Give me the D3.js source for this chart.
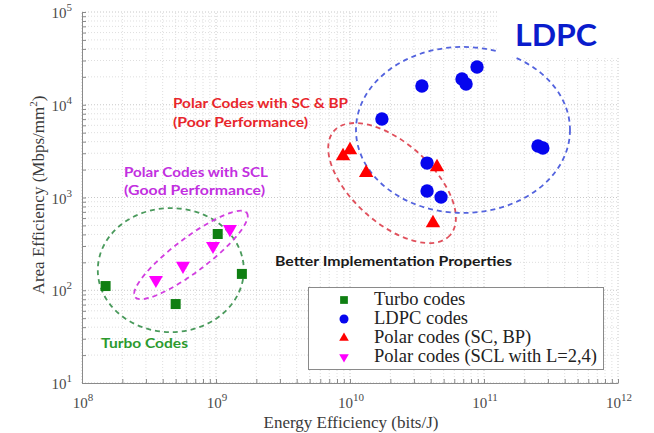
<!DOCTYPE html>
<html>
<head>
<meta charset="utf-8">
<script src="https://cdn.jsdelivr.net/npm/d3@7"></script>
<style>
  body { margin: 0; background: #fff; }
  svg { display: block; }
</style>
</head>
<body>
<div id="chart"></div>
<script>
// energy efficiency (bits/J) vs area efficiency (Mbps/mm^2)
var turboX = [1.5e8, 5.0e8, 1.03e9, 1.56e9];
var turboY = [111, 71, 404, 150];

var ldpcX = [8.87e10, 6.85e10, 7.35e10, 3.44e10, 1.73e10, 2.53e11, 2.75e11, 3.76e10, 3.76e10, 4.78e10];
var ldpcY = [25500, 18970, 16750, 15920, 7020, 3590, 3420, 2350, 1175, 1010];

var polarScX = [8.87e9, 1.0e10, 1.32e10, 4.46e10, 4.16e10];
var polarScY = [2800, 3250, 1840, 2130, 531];

var polarSclX = [3.56e8, 5.67e8, 9.5e8, 1.27e9];
var polarSclY = [129, 183, 300, 457];

var legendLabels = ["Turbo codes", "LDPC codes", "Polar codes (SC, BP)", "Polar codes (SCL with L=2,4)"];
var xTickExp = [8, 9, 10, 11, 12];
var yTickExp = [1, 2, 3, 4, 5];

var width = 654, height = 433;
var margin = {top: 12, right: 36, bottom: 50, left: 82};

var svg = d3.select("#chart").append("svg")
    .attr("width", width)
    .attr("height", height);

var x = d3.scaleLog()
    .domain([1e8, 1e12])
    .range([margin.left, width - margin.right]);
var y = d3.scaleLog()
    .domain([1e1, 1e5])
    .range([height - margin.bottom, margin.top]);

var series = [
  {name: legendLabels[0], xs: turboX, ys: turboY, color: "#0f7f12", shape: d3.symbolSquare, size: 100, rot: 0, lsize: 60},
  {name: legendLabels[1], xs: ldpcX, ys: ldpcY, color: "#0606ee", shape: d3.symbolCircle, size: 140, rot: 0, lsize: 64},
  {name: legendLabels[2], xs: polarScX, ys: polarScY, color: "#ff0000", shape: d3.symbolTriangle, size: 90, rot: 0, lsize: 40},
  {name: legendLabels[3], xs: polarSclX, ys: polarSclY, color: "#ff00ff", shape: d3.symbolTriangle, size: 85, rot: 180, lsize: 40}
];

// grid (minor + major, dotted like matlab)
var grid = svg.append("g");
var xMaj = xTickExp.map(e => Math.pow(10, e));
var yMaj = yTickExp.map(e => Math.pow(10, e));
var isMajor = v => Math.abs(Math.log10(v) - Math.round(Math.log10(v))) < 1e-9;

grid.selectAll(".gx")
  .data(x.ticks())
  .join("line")
    .attr("x1", d => x(d)).attr("x2", d => x(d))
    .attr("y1", y.range()[0]).attr("y2", y.range()[1])
    .attr("stroke", d => isMajor(d) ? "#c8c8c8" : "#dedede")
    .attr("stroke-dasharray", "1,2");
grid.selectAll(".gy")
  .data(y.ticks())
  .join("line")
    .attr("y1", d => y(d)).attr("y2", d => y(d))
    .attr("x1", x.range()[0]).attr("x2", x.range()[1])
    .attr("stroke", d => isMajor(d) ? "#c8c8c8" : "#dedede")
    .attr("stroke-dasharray", "1,2");

// dashed group outlines: centre in data units, radii in px
var groups = [
  {cx: 4.6e8, cy: 165, rx: 73, ry: 62, rot: 0, color: "#4a9a5c"},
  {cx: 6.5e8, cy: 240, rx: 70, ry: 17, rot: -37, color: "#d23ee0"},
  {cx: 2.06e10, cy: 1432, rx: 78, ry: 40, rot: 42, color: "#e0505c"},
  {cx: 6.97e10, cy: 5350, rx: 107, ry: 83, rot: 0, color: "#5363de"}
];
svg.append("g").selectAll("ellipse")
  .data(groups)
  .join("ellipse")
    .attr("cx", d => x(d.cx))
    .attr("cy", d => y(d.cy))
    .attr("rx", d => d.rx)
    .attr("ry", d => d.ry)
    .attr("transform", d => `rotate(${d.rot},${x(d.cx)},${y(d.cy)})`)
    .attr("fill", "none")
    .attr("stroke", d => d.color)
    .attr("stroke-width", 1.8)
    .attr("stroke-dasharray", "5,4");

// white patch behind the LDPC title
svg.append("rect")
    .attr("x", 497).attr("y", 0)
    .attr("width", width - 497).attr("height", 57)
    .attr("fill", "#fff");

// markers
series.forEach(s => {
  svg.append("g").selectAll("path")
    .data(s.xs.map((v, i) => [v, s.ys[i]]))
    .join("path")
      .attr("d", d3.symbol().type(s.shape).size(s.size))
      .attr("transform", d => `translate(${x(d[0])},${y(d[1])}) rotate(${s.rot})`)
      .attr("fill", s.color);
});

// annotations
var notes = [
  {t: "LDPC", x: 515, y: 46, size: 31, color: "#0a1ccc", len: 82},
  {t: "Polar Codes with SC & BP", x: 173, y: 108, size: 14, color: "#e8262c", len: 175},
  {t: "(Poor Performance)", x: 173, y: 127, size: 14, color: "#e8262c", len: 135},
  {t: "Polar Codes with SCL", x: 124, y: 177, size: 14, color: "#c22fe0", len: 144},
  {t: "(Good Performance)", x: 124, y: 195, size: 14, color: "#c22fe0", len: 141},
  {t: "Better Implementation Properties", x: 275, y: 266, size: 14, color: "#1a1a1a", len: 237},
  {t: "Turbo Codes", x: 101, y: 348, size: 14, color: "#2c9a2e", len: 87}
];
svg.append("g").selectAll("text")
  .data(notes)
  .join("text")
    .attr("x", d => d.x)
    .attr("y", d => d.y)
    .attr("font-family", "Lato, 'Open Sans', sans-serif")
    .attr("font-weight", 700)
    .attr("font-size", d => d.size)
    .attr("fill", d => d.color)
    .attr("textLength", d => d.len)
    .attr("lengthAdjust", "spacingAndGlyphs")
    .text(d => d.t);

// axes with inward ticks
var axisColor = "#8a8a8a";
var gx = svg.append("g")
    .attr("transform", `translate(0,${y.range()[0]})`)
    .call(d3.axisBottom(x).tickValues(x.ticks()).tickSizeInner(-4).tickSizeOuter(0).tickFormat(""));
var gy = svg.append("g")
    .attr("transform", `translate(${x.range()[0]},0)`)
    .call(d3.axisLeft(y).tickValues(y.ticks()).tickSizeInner(-4).tickSizeOuter(0).tickFormat(""));
[gx, gy].forEach(g => {
  g.select(".domain").attr("stroke", axisColor);
  g.selectAll(".tick line").attr("stroke", axisColor);
});

var serif = "'Liberation Serif', 'Times New Roman', serif";

var xl = svg.append("g").selectAll("text")
  .data(xMaj)
  .join("text")
    .attr("x", d => x(d) + 1)
    .attr("y", 408)
    .attr("text-anchor", "middle")
    .attr("font-family", serif)
    .attr("font-size", 15)
    .attr("fill", "#4a4a4a");
xl.append("tspan").text("10");
xl.append("tspan").attr("dy", -7).attr("font-size", 11).text(d => Math.round(Math.log10(d)));

var yl = svg.append("g").selectAll("text")
  .data(yMaj)
  .join("text")
    .attr("x", x.range()[0] - 10)
    .attr("y", d => y(d) + 6)
    .attr("text-anchor", "end")
    .attr("font-family", serif)
    .attr("font-size", 15)
    .attr("fill", "#4a4a4a");
yl.append("tspan").text("10");
yl.append("tspan").attr("dy", -7).attr("font-size", 11).text(d => Math.round(Math.log10(d)));

// axis titles
svg.append("text")
    .attr("x", 351)
    .attr("y", 428)
    .attr("text-anchor", "middle")
    .attr("font-family", serif)
    .attr("font-size", 17)
    .attr("fill", "#3a3a3a")
    .text("Energy Efficiency (bits/J)");

var yt = svg.append("text")
    .attr("transform", "translate(44,195) rotate(-90)")
    .attr("text-anchor", "middle")
    .attr("font-family", serif)
    .attr("font-size", 17)
    .attr("fill", "#3a3a3a");
yt.append("tspan").text("Area Efficiency (Mbps/mm");
yt.append("tspan").attr("dy", -7).attr("font-size", 11).text("2");
yt.append("tspan").attr("dy", 7).text(")");

// legend
var legend = svg.append("g");
legend.append("rect")
    .attr("x", 308.5).attr("y", 287.5)
    .attr("width", 295).attr("height", 82)
    .attr("fill", "#fff")
    .attr("stroke", "#8a8a8a");
var rows = legend.selectAll(".row")
  .data(series)
  .join("g")
    .attr("transform", (d, i) => `translate(0,${305 + i * 19})`);
rows.append("path")
    .attr("d", d => d3.symbol().type(d.shape).size(d.lsize)())
    .attr("transform", d => `translate(344,-5) rotate(${d.rot})`)
    .attr("fill", d => d.color);
rows.append("text")
    .attr("x", 374)
    .attr("font-family", serif)
    .attr("font-size", 18.5)
    .attr("fill", "#222")
    .text(d => d.name);
</script>
</body>
</html>
